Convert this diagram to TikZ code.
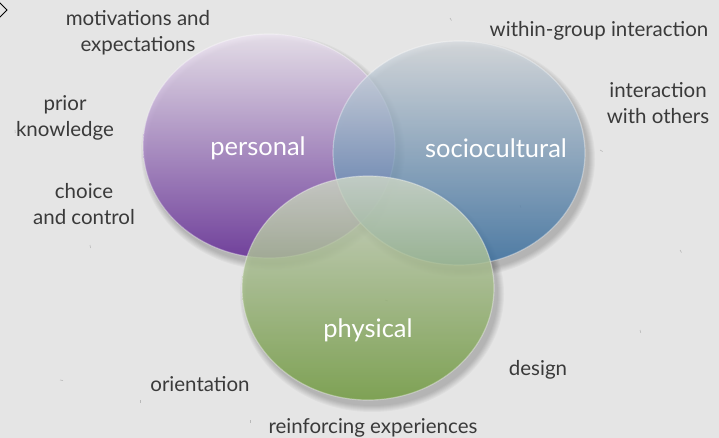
\documentclass[tikz,border=0pt]{standalone}
\usepackage{fontspec}
\setmainfont{Lato}
\usetikzlibrary{shapes.geometric}
\definecolor{paper}{RGB}{229,229,229}
\definecolor{ink}{RGB}{58,58,58}
\definecolor{speck}{RGB}{185,185,185}
\definecolor{perTop}{RGB}{238,230,242}
\definecolor{perBot}{RGB}{98,40,150}
\definecolor{socTop}{RGB}{216,220,224}
\definecolor{socBot}{RGB}{55,110,160}
\definecolor{phyTop}{RGB}{208,216,200}
\definecolor{phyBot}{RGB}{115,158,64}
\begin{document}
\begin{tikzpicture}[x=1pt,y=-1pt,
  circ/.style={ellipse, minimum width=252, minimum height=224, inner sep=0pt,
    fill opacity=0.82, draw=white, draw opacity=0.35, line width=1.2pt},
  lbl/.style={text=ink, font=\fontsize{20.5}{26}\selectfont, align=center, inner sep=0pt},
  inlbl/.style={text=white, font=\fontsize{25.5}{30}\selectfont, inner sep=0pt},
  shade/.style={fill=black, fill opacity=0.03}]
% page
\fill[paper] (0,0) rectangle (719,438);
\useasboundingbox (0,0) rectangle (719,438);
% corner marker
\draw[black, line width=0.8pt] (-7,10) -- (0,3) -- (7,10) -- (0,17) -- cycle;
% faint specks on the paper
\foreach \x/\y/\a in {385/300/20, 520/205/70, 680/250/60, 600/150/30, 90/245/80, 60/380/10,
  140/400/90, 300/240/40, 640/330/75, 450/18/60, 15/130/85, 250/420/90}
  \draw[speck, line width=0.6pt] (\x,\y) -- ++(\a:3);
% soft shadows
\foreach \cx/\cy in {269/146, 459/153, 368/288}
  \foreach \k in {0,...,6}
    \path[shade] (\cx+4,\cy+6) ellipse [x radius=126+\k, y radius=112+\k];
% the three circles
\node[circ, top color=perTop, bottom color=perBot] (personal) at (269,146) {};
\node[circ, top color=socTop, bottom color=socBot] (socio) at (459,153) {};
\node[circ, top color=phyTop, bottom color=phyBot] (physical) at (368,288) {};
% circle titles
\node[inlbl] (tper) at (258,148) {personal};
\node[inlbl] (tsoc) at (496,148) {sociocultural};
\node[inlbl] (tphy) at (368,330) {physical};
% surrounding factors
\node[lbl] (mot) at (138,33) {motivations and\\expectations};
\node[lbl] (wgi) at (599,31) {within-group interaction};
\node[lbl] (iwo) at (658,103) {interaction\\with others};
\node[lbl] (pri) at (65,118) {prior\\knowledge};
\node[lbl] (cho) at (84,204) {choice\\and control};
\node[lbl] (ori) at (200,384) {orientation};
\node[lbl] (des) at (538,370) {design};
\node[lbl] (rei) at (373,428) {reinforcing experiences};
\end{tikzpicture}
\end{document}
